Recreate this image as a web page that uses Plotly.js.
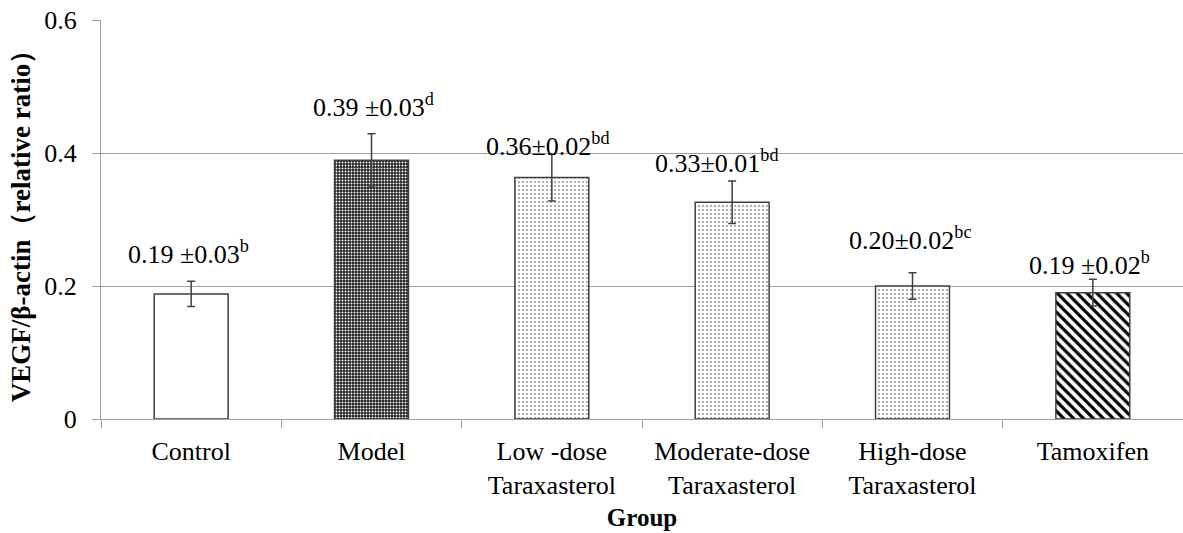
<!DOCTYPE html>
<html>
<head>
<meta charset="utf-8">
<script src="https://cdn.plot.ly/plotly-3.0.1.min.js"></script>
<style>html,body{margin:0;padding:0;background:#fff;}#chart{width:1183px;height:533px;}</style>
</head>
<body>
<div id="chart"></div>
<script>
// Data
var categories = ["Control", "Model", "Low -dose<br>Taraxasterol", "Moderate-dose<br>Taraxasterol", "High-dose<br>Taraxasterol", "Tamoxifen"];
var values = [0.188, 0.389, 0.363, 0.326, 0.200, 0.190];
var errors = [0.019, 0.040, 0.035, 0.032, 0.020, 0.020];
var labelMain = ["0.19 ±0.03", "0.39 ±0.03", "0.36±0.02", "0.33±0.01", "0.20±0.02", "0.19 ±0.02"];
var labelSup = ["b", "d", "bd", "bd", "bc", "b"];

// Styling (not data)
var patShape = ["", ".", ".", ".", ".", "\\"];
var patFg = ["#000", "#ffffff", "#333", "#333", "#333", "#000"];
var patBg = ["#fff", "#1c1c1c", "#fff", "#fff", "#fff", "#fff"];
var patSize = [8, 3, 4, 4, 4, 7];
var patSolid = [0.3, 0.35, 0.1, 0.1, 0.1, 0.45];
var labelYShift = [29, 28, 10, 19, 34, 16];
var labelXShift = [-3, 2, -4, -16, -3, -3];

var serif = "Liberation Serif";

var trace = {
  type: "bar",
  x: categories,
  y: values,
  width: 0.41,
  marker: {
    color: "#ffffff",
    line: {color: "#404040", width: 1.5},
    pattern: {shape: patShape, fgcolor: patFg, bgcolor: patBg, size: patSize, solidity: patSolid, fillmode: "replace"}
  },
  error_y: {type: "data", array: errors, visible: true, color: "#404040", thickness: 1.5, width: 4},
  hoverinfo: "none"
};

var annotations = categories.map(function (c, i) {
  return {
    x: c, y: values[i] + errors[i], xref: "x", yref: "y",
    text: labelMain[i] + "<sup>" + labelSup[i] + "</sup>",
    showarrow: false, yanchor: "middle", xanchor: "center",
    yshift: labelYShift[i], xshift: labelXShift[i],
    font: {family: serif, size: 26, color: "#000"}
  };
});

var layout = {
  width: 1183, height: 533,
  margin: {l: 101, r: 0, t: 20, b: 114},
  paper_bgcolor: "#fff", plot_bgcolor: "#fff",
  font: {family: serif},
  showlegend: false,
  xaxis: {
    type: "category",
    tickson: "boundaries",
    ticks: "outside", ticklen: 8, tickcolor: "#a0a0a0", tickwidth: 1,
    ticklabelstandoff: 9,
    showline: true, linecolor: "#a0a0a0", linewidth: 1,
    showgrid: false,
    tickfont: {family: serif, size: 26, color: "#000"},
    title: {text: "Group", font: {family: serif, size: 25, color: "#000", weight: "bold"}, standoff: 9}
  },
  yaxis: {
    range: [0, 0.6], dtick: 0.2, tick0: 0,
    ticks: "outside", ticklen: 8, tickcolor: "#a0a0a0", tickwidth: 1,
    ticklabelstandoff: 10,
    showline: true, linecolor: "#a0a0a0", linewidth: 1,
    showgrid: true, gridcolor: "#a0a0a0", gridwidth: 1,
    zeroline: false,
    tickfont: {family: serif, size: 26, color: "#000"},
    title: {text: "VEGF/β-actin（relative ratio）", font: {family: serif, size: 27, color: "#000", weight: "bold"}, standoff: 5}
  },
  annotations: annotations
};

Plotly.newPlot("chart", [trace], layout, {displayModeBar: false, staticPlot: true});
</script>
</body>
</html>
